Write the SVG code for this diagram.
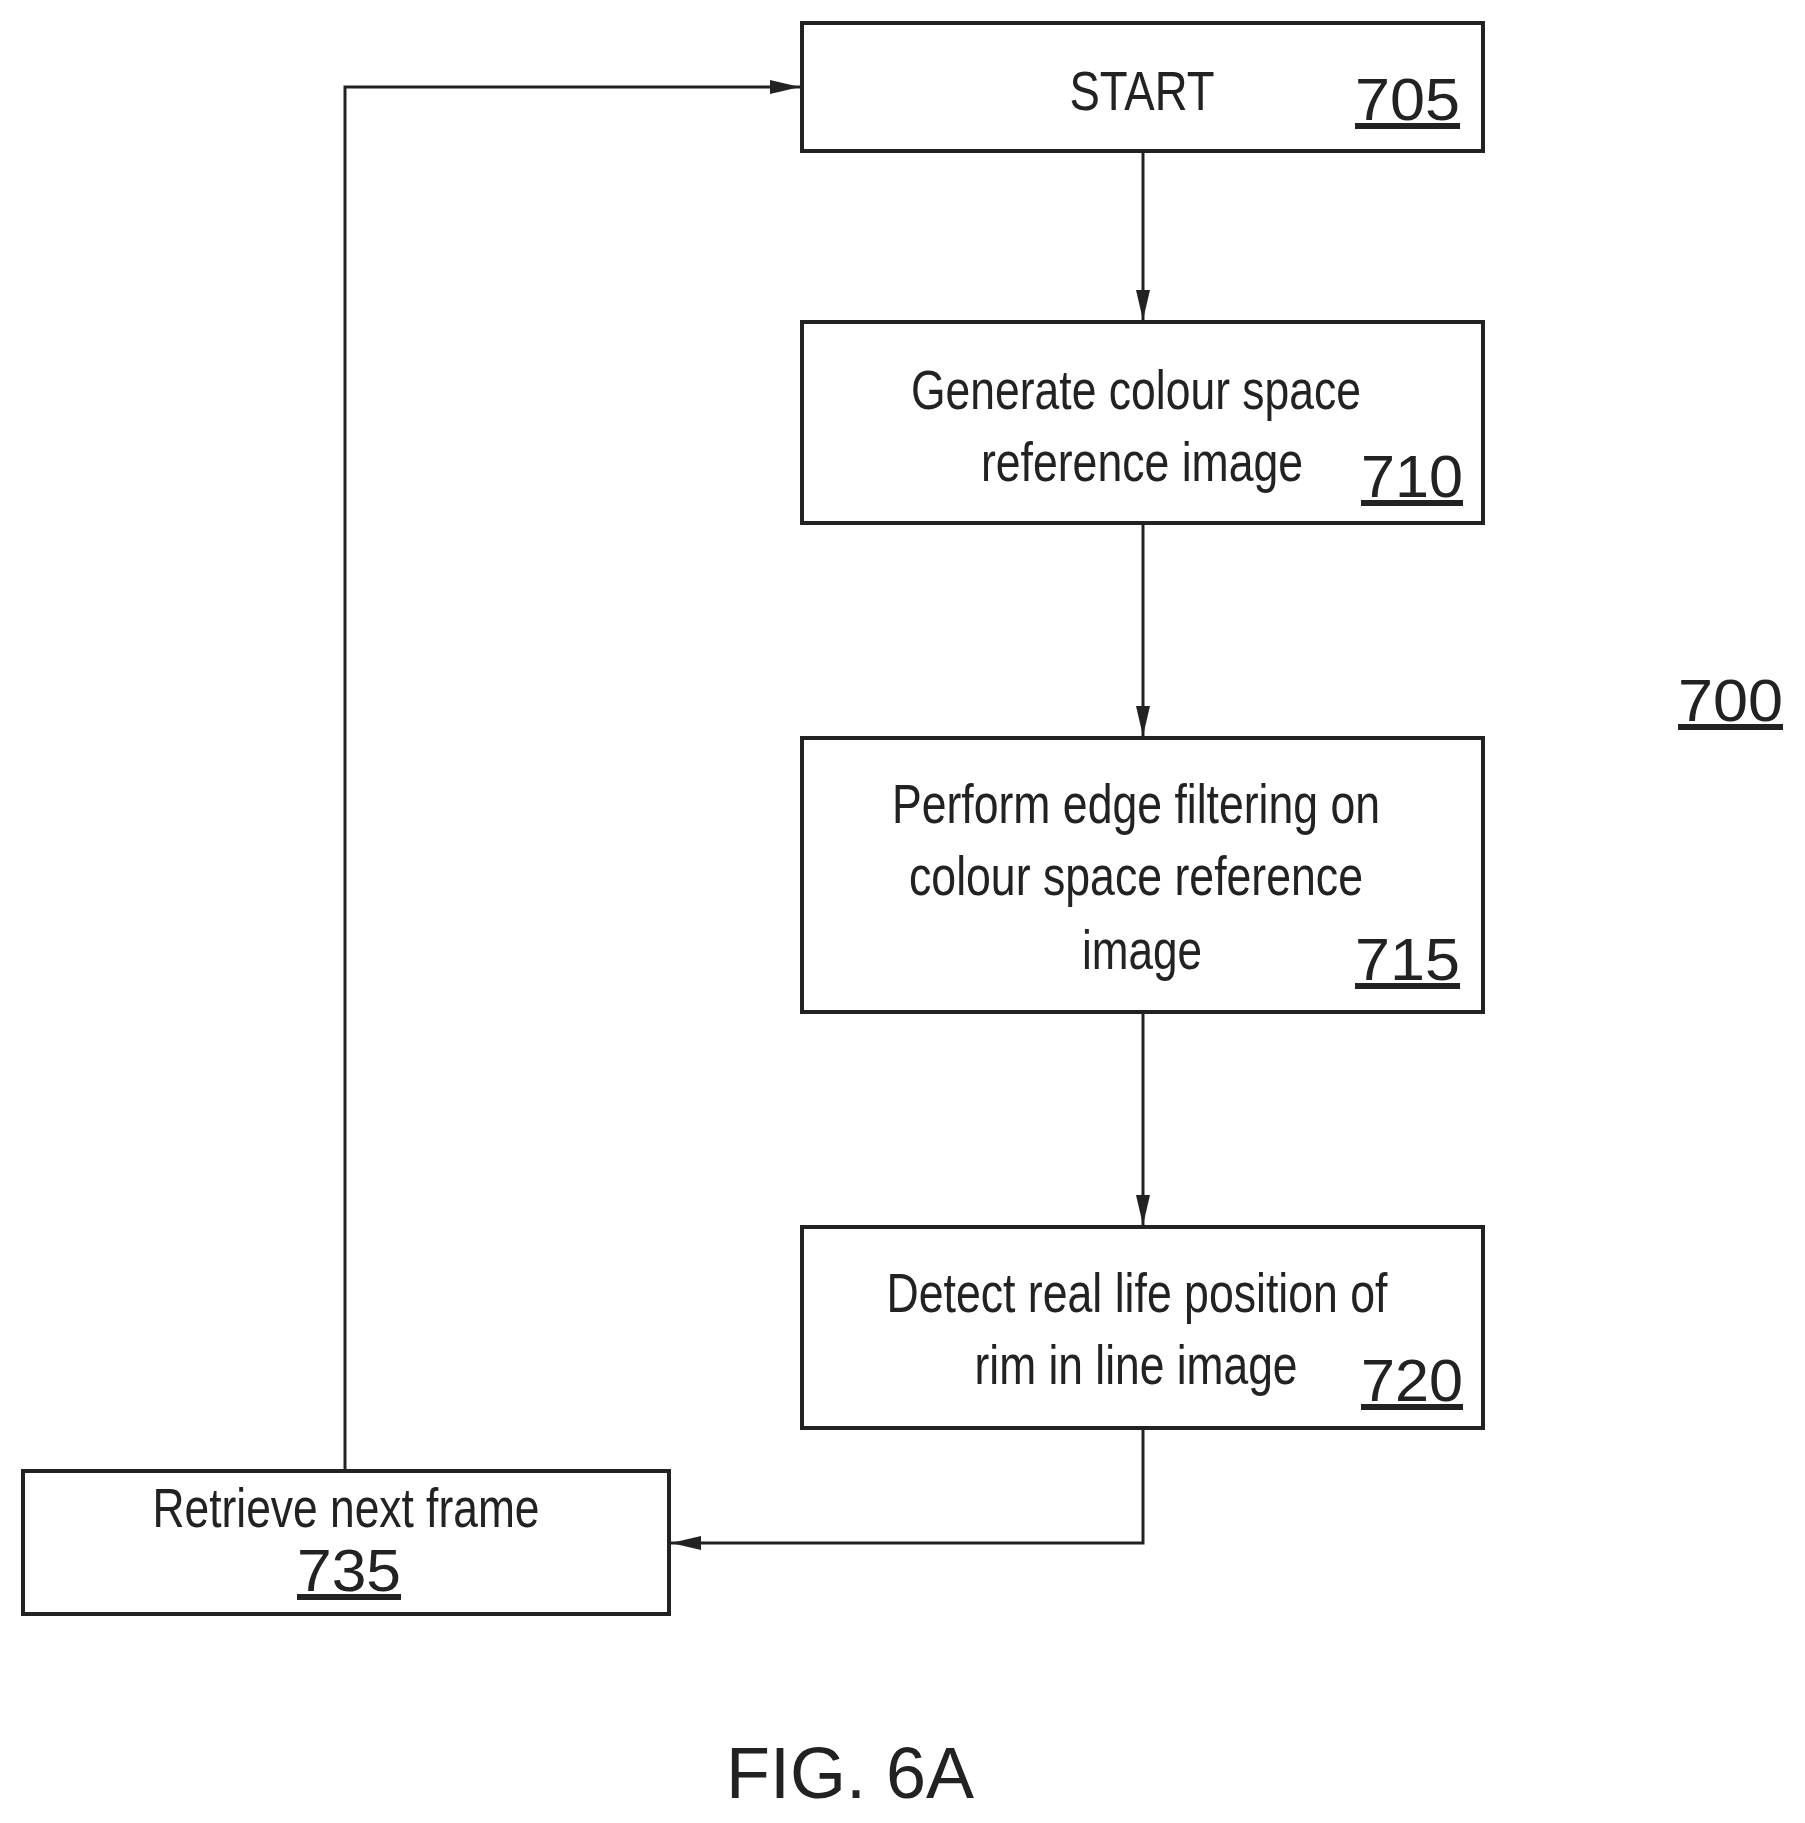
<svg xmlns="http://www.w3.org/2000/svg" width="1805" height="1823" viewBox="0 0 1805 1823">
<style>
.box{fill:#fff;stroke:#222;stroke-width:4}
.t{font-family:"Liberation Sans",Arial,sans-serif;font-size:56px;fill:#222;text-anchor:middle}
.n{font-family:"Liberation Sans",Arial,sans-serif;font-size:60px;fill:#222;text-decoration:underline}
.c{fill:none;stroke:#222;stroke-width:3}
</style>
<defs><marker id="a" viewBox="0 0 10 10" refX="10" refY="5" markerWidth="10" markerHeight="10" markerUnits="userSpaceOnUse" orient="auto"><path d="M0,0 L10,5 L0,10 z" fill="#222"/></marker>
<marker id="b" viewBox="0 0 30 14" refX="30" refY="7" markerWidth="30" markerHeight="14" markerUnits="userSpaceOnUse" orient="auto"><path d="M0,0 L30,7 L0,14 z" fill="#222"/></marker></defs>
<g id="connectors">
<line class="c" x1="1143" y1="153" x2="1143" y2="320" marker-end="url(#b)"/>
<line class="c" x1="1143" y1="525" x2="1143" y2="736" marker-end="url(#b)"/>
<line class="c" x1="1143" y1="1014" x2="1143" y2="1225" marker-end="url(#b)"/>
<polyline class="c" points="1143,1430 1143,1543 671,1543" marker-end="url(#b)"/>
<polyline class="c" points="345,1469 345,87 800,87" marker-end="url(#b)"/>
</g>
<g id="n705"><rect class="box" x="802" y="23" width="681" height="128"/>
<text class="t" x="1142" y="110" textLength="145" lengthAdjust="spacingAndGlyphs">START</text>
<text class="n" x="1355" y="120" textLength="105" lengthAdjust="spacingAndGlyphs">705</text></g>
<g id="n710"><rect class="box" x="802" y="322" width="681" height="201"/>
<text class="t" x="1136" y="409" textLength="450" lengthAdjust="spacingAndGlyphs">Generate colour space</text>
<text class="t" x="1142" y="481" textLength="322" lengthAdjust="spacingAndGlyphs">reference image</text>
<text class="n" x="1361" y="497" textLength="102" lengthAdjust="spacingAndGlyphs">710</text></g>
<g id="n715"><rect class="box" x="802" y="738" width="681" height="274"/>
<text class="t" x="1136" y="823" textLength="488" lengthAdjust="spacingAndGlyphs">Perform edge filtering on</text>
<text class="t" x="1136" y="895" textLength="454" lengthAdjust="spacingAndGlyphs">colour space reference</text>
<text class="t" x="1142" y="969" textLength="120" lengthAdjust="spacingAndGlyphs">image</text>
<text class="n" x="1355" y="980" textLength="105" lengthAdjust="spacingAndGlyphs">715</text></g>
<g id="n720"><rect class="box" x="802" y="1227" width="681" height="201"/>
<text class="t" x="1137" y="1312" textLength="501" lengthAdjust="spacingAndGlyphs">Detect real life position of</text>
<text class="t" x="1136" y="1384" textLength="323" lengthAdjust="spacingAndGlyphs">rim in line image</text>
<text class="n" x="1361" y="1401" textLength="102" lengthAdjust="spacingAndGlyphs">720</text></g>
<g id="n735"><rect class="box" x="23" y="1471" width="646" height="143"/>
<text class="t" x="346" y="1527" textLength="387" lengthAdjust="spacingAndGlyphs">Retrieve next frame</text>
<text class="n" x="297" y="1591" textLength="104" lengthAdjust="spacingAndGlyphs">735</text></g>
<text class="n" x="1678" y="721" textLength="105" lengthAdjust="spacingAndGlyphs">700</text>
<text x="850" y="1798" font-family="Liberation Sans,Arial,sans-serif" font-size="72" fill="#222" text-anchor="middle">FIG. 6A</text>
</svg>
